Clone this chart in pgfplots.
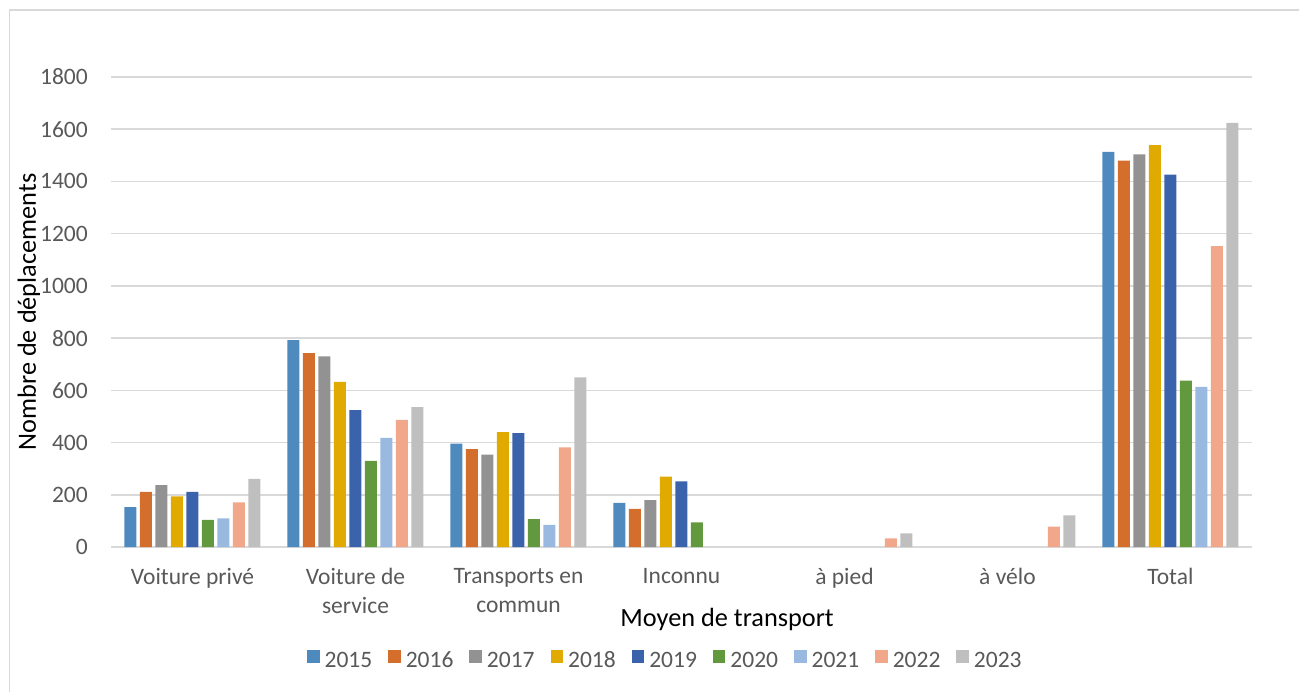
\documentclass[border=0pt]{standalone}
\usepackage{fontspec}
\setmainfont{Carlito}
\usepackage{pgfplots}
\pgfplotsset{compat=1.18}
\usepackage{pgfplotstable}

\definecolor{c2015}{RGB}{79,138,190}
\definecolor{c2016}{RGB}{212,110,44}
\definecolor{c2017}{RGB}{146,146,146}
\definecolor{c2018}{RGB}{224,170,0}
\definecolor{c2019}{RGB}{59,99,172}
\definecolor{c2020}{RGB}{98,153,62}
\definecolor{c2021}{RGB}{153,185,224}
\definecolor{c2022}{RGB}{241,168,138}
\definecolor{c2023}{RGB}{191,191,191}
\definecolor{gridc}{RGB}{217,217,217}
\definecolor{txt}{RGB}{89,89,89}

% one row per mode of transport, one column per year
\pgfplotstableread{
idx y2015 y2016 y2017 y2018 y2019 y2020 y2021 y2022 y2023
0   153   211   237   194   211   104   110   171   261
1   792   743   730   632   524   330   418   487   536
2   396   375   354   440   436   107   85    382   650
3   169   146   180   270   251   94    nan   nan   nan
4   nan   nan   nan   nan   nan   nan   nan   33    52
5   nan   nan   nan   nan   nan   nan   nan   78    121
6   1513  1480  1504  1539  1426  637   613   1152  1624
}\trips

\begin{document}
\begin{tikzpicture}
\useasboundingbox (0,0) rectangle (1299bp,-692bp);
\draw[gridc, line width=1.8bp] (9.5bp,-10bp) rectangle (1330bp,-720bp);
\begin{axis}[
  at={(111bp,-547bp)}, anchor=south west,
  scale only axis, width=1141bp, height=470bp,
  ybar=3.5bp, bar width=12bp,
  xmin=-0.5, xmax=6.5, ymin=0, ymax=1800,
  xtick={0,...,6},
  xticklabels={Voiture privé, Voiture de\\service, Transports en\\commun,
               Inconnu, à pied, à vélo, Total},
  ytick={0,200,...,1800},
  axis line style={draw=none},
  major tick length=0pt,
  ymajorgrids, grid style={gridc, line width=1.5bp},
  tick label style={font=\fontsize{23.6}{29.3}\selectfont, text=txt},
  yticklabel style={/pgf/number format/assume math mode=true,
                    /pgf/number format/1000 sep={}, inner sep=0pt, xshift=-23bp},
  xticklabel style={align=center, anchor=north, inner sep=0pt, yshift=-21bp},
  ylabel={Nombre de déplacements},
  ylabel style={at={(axis description cs:-0.072,0.5)}, anchor=center,
                font=\fontsize{26.4}{32}\selectfont},
  xlabel={Moyen de transport},
  xlabel style={at={(axis description cs:0.54,-0.155)}, anchor=center,
                font=\fontsize{26.4}{32}\selectfont},
  legend columns=-1,
  legend style={at={(axis description cs:0.485,-0.238)}, anchor=center,
                draw=none, font=\fontsize{23.6}{28}\selectfont, text=txt,
                nodes={inner sep=0pt, text height=16bp, text depth=0bp},
                /tikz/every odd column/.append style={column sep=5bp},
                /tikz/every even column/.append style={column sep=16bp}},
  legend image code/.code={\fill[#1] (0bp,-3.5bp) rectangle (12.5bp,9bp);},
]
\addplot[fill=c2015, draw=none] table[x=idx, y=y2015] {\trips};
\addplot[fill=c2016, draw=none] table[x=idx, y=y2016] {\trips};
\addplot[fill=c2017, draw=none] table[x=idx, y=y2017] {\trips};
\addplot[fill=c2018, draw=none] table[x=idx, y=y2018] {\trips};
\addplot[fill=c2019, draw=none] table[x=idx, y=y2019] {\trips};
\addplot[fill=c2020, draw=none] table[x=idx, y=y2020] {\trips};
\addplot[fill=c2021, draw=none] table[x=idx, y=y2021] {\trips};
\addplot[fill=c2022, draw=none] table[x=idx, y=y2022] {\trips};
\addplot[fill=c2023, draw=none] table[x=idx, y=y2023] {\trips};
\legend{2015, 2016, 2017, 2018, 2019, 2020, 2021, 2022, 2023}
\end{axis}
\end{tikzpicture}
\end{document}
